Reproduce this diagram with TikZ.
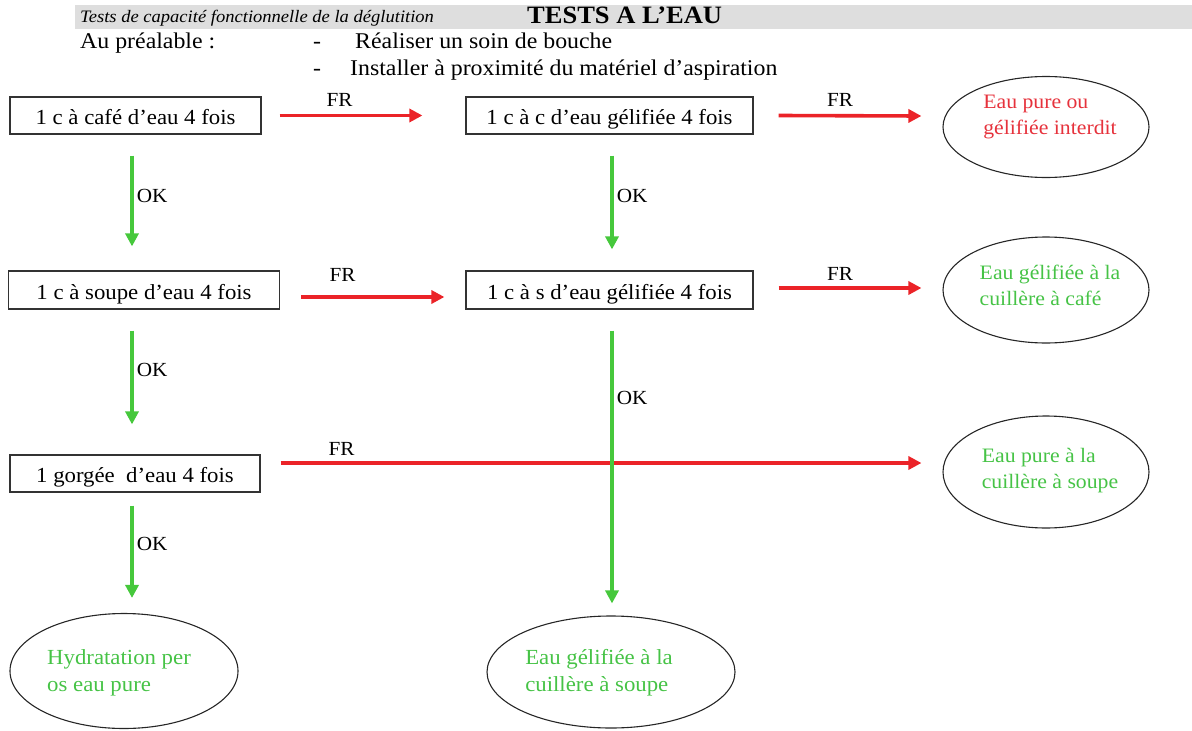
\documentclass[tikz,border=0pt]{standalone}
\usepackage{fontspec}
\setmainfont{Liberation Serif}[FakeStretch=1.06]
\usetikzlibrary{shapes.geometric,arrows.meta}
\definecolor{frred}{RGB}{235,35,40}
\definecolor{okgreen}{RGB}{70,200,60}
\definecolor{txtgreen}{RGB}{70,195,70}
\definecolor{txtred}{RGB}{230,50,60}
\definecolor{bargray}{RGB}{222,222,222}
\tikzset{
  stepbox/.style={draw=black!80, line width=1.2pt, minimum height=37pt, inner xsep=0pt, inner ysep=0pt, text height=20pt, text depth=2pt, font=\fontsize{21.5}{24}\selectfont},
  result/.style={ellipse, draw=black!85, line width=1.1pt, inner sep=0pt},
  rtext/.style={align=left, inner sep=0pt, font=\fontsize{20.5}{26}\selectfont},
  btext/.style={align=left, inner sep=0pt, font=\fontsize{21.5}{27}\selectfont},
  frarrow/.style={draw=frred, line width=3.6pt, -{Triangle[length=13pt,width=13pt]}},
  okarrow/.style={draw=okgreen, line width=3.6pt, -{Triangle[length=13pt,width=13pt]}},
  lbl/.style={font=\fontsize{20}{22}\selectfont, inner sep=0pt, text=black},
  hdr/.style={anchor=base west, inner sep=0pt, font=\fontsize{22.5}{24}\selectfont},
}
\begin{document}
\begin{tikzpicture}[x=1pt,y=-1pt]
\useasboundingbox (0,0) rectangle (1192,731);
\fill[bargray] (75,5) rectangle (1192,29);
\node[anchor=base west, inner sep=0pt, font=\fontsize{17.5}{18}\selectfont\itshape] (sub) at (80,22) {Tests de capacité fonctionnelle de la déglutition};
\node[anchor=base west, inner sep=0pt, font=\fontsize{25}{26}\selectfont\bfseries] (title) at (527,23) {TESTS A L’EAU};
\node[hdr] (pre) at (80,48) {Au préalable :};
\node[hdr] (d1) at (313,48) {-};
\node[hdr] (t1) at (355,48) {Réaliser un soin de bouche};
\node[hdr] (d2) at (313,75) {-};
\node[hdr] (t2) at (350,75) {Installer à proximité du matériel d’aspiration};

% boxes
\node[stepbox, minimum width=251pt] (b1) at (135.5,115.5) {1 c à café d’eau 4 fois};
\node[stepbox, minimum width=287pt] (b2) at (609.5,115.5) {1 c à c d’eau gélifiée 4 fois};
\node[stepbox, minimum width=271pt, minimum height=38pt] (b3) at (144,290) {1 c à soupe d’eau 4 fois};
\node[stepbox, minimum width=287pt, minimum height=38pt] (b4) at (609.5,290) {1 c à s d’eau gélifiée 4 fois};
\node[stepbox, minimum width=250pt] (b5) at (135,473.5) {1 gorgée\ \ d’eau 4 fois};

% results
\node[result, minimum width=206pt, minimum height=101pt,
  label={[rtext, text=txtred, yshift=10pt, xshift=4pt]center:{Eau pure ou\\gélifiée interdit}}] (e1) at (1046,127) {};
\node[result, minimum width=206pt, minimum height=106pt,
  label={[rtext, text=txtgreen, yshift=5pt, xshift=4pt]center:{Eau gélifiée à la\\cuillère à café}}] (e2) at (1046,290) {};
\node[result, minimum width=206pt, minimum height=112pt,
  label={[rtext, text=txtgreen, yshift=1pt, xshift=4pt]center:{Eau pure à la\\cuillère à soupe}}] (e3) at (1046,472) {};
\node[result, minimum width=228pt, minimum height=115pt,
  label={[btext, text=txtgreen, yshift=-2pt, xshift=-5pt]center:{Hydratation per\\os eau pure}}] (e4) at (124,671) {};
\node[result, minimum width=248pt, minimum height=112pt,
  label={[btext, text=txtgreen, yshift=-1pt, xshift=-12pt]center:{Eau gélifiée à la\\cuillère à soupe}}] (e5) at (611,672) {};

\coordinate (c1) at (132,0);
\coordinate (c2) at (612,0);

% FR arrows
\draw[frarrow] ([xshift=18pt]b1.east) -- node[lbl, pos=0.42, above=7pt]{FR} ([xshift=-43pt]b2.west);
\draw[frarrow] ([xshift=25pt]b2.east) -- node[lbl, pos=0.43, above=7pt]{FR} ([xshift=-21pt,yshift=11pt]e1.west);
\draw[frarrow] ([xshift=21pt,yshift=-7pt]b3.east) -- node[lbl, pos=0.29, above=14pt]{FR} ([xshift=-21pt,yshift=-7pt]b4.west);
\draw[frarrow] ([xshift=25pt,yshift=2pt]b4.east) -- node[lbl, pos=0.43, above=6pt]{FR} ([xshift=-21pt,yshift=2pt]e2.west);
\draw[frarrow] ([xshift=20pt,yshift=10.5pt]b5.east) -- node[lbl, pos=0.095, above=6pt]{FR} ([xshift=-21pt,yshift=9pt]e3.west);

% OK arrows
\draw[okarrow, shorten <=21pt, shorten >=24pt] (b1.south -| c1) -- node[lbl, pos=0.45, right=3pt]{OK} (b3.north -| c1);
\draw[okarrow, shorten <=21pt, shorten >=30pt] (b3.south -| c1) -- node[lbl, pos=0.42, right=3pt]{OK} (b5.north -| c1);
\draw[okarrow, shorten <=13pt, shorten >=15pt] (b5.south -| c1) -- node[lbl, pos=0.43, right=3pt]{OK} (e4.north -| c1);
\draw[okarrow, shorten <=21pt, shorten >=21pt] (b2.south -| c2) -- node[lbl, pos=0.45, right=3pt]{OK} (b4.north -| c2);
\draw[okarrow, shorten <=21pt, shorten >=12pt] (b4.south -| c2) -- node[lbl, pos=0.29, right=3pt]{OK} (e5.north -| c2);
\end{tikzpicture}
\end{document}
